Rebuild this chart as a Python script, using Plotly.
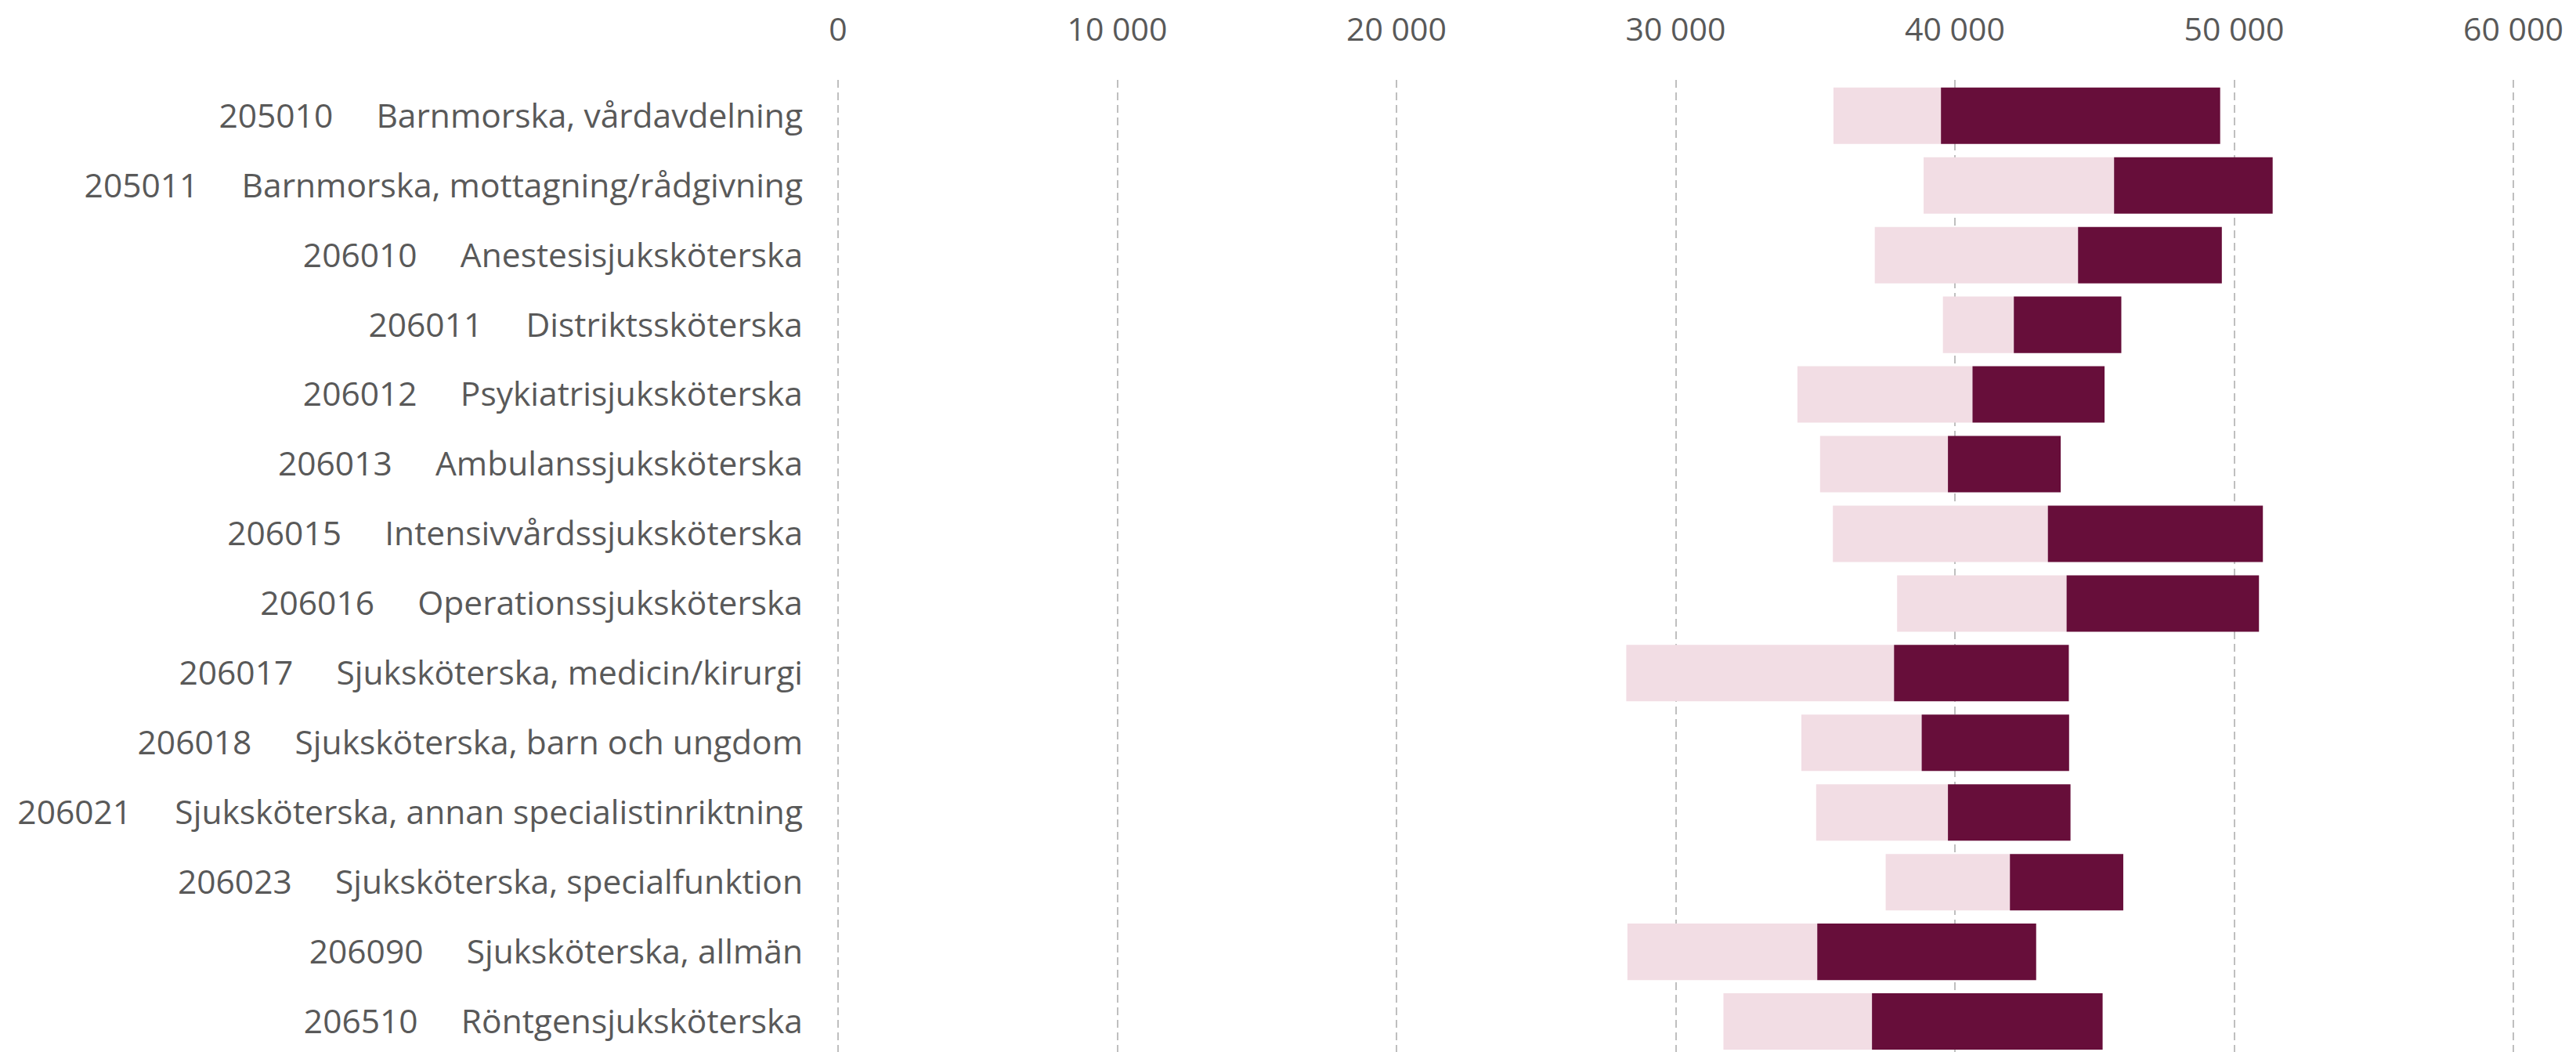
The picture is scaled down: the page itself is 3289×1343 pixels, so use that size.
import plotly.graph_objects as go

codes = ["205010", "205011", "206010", "206011", "206012", "206013", "206015",
         "206016", "206017", "206018", "206021", "206023", "206090", "206510"]
names = ["Barnmorska, vårdavdelning", "Barnmorska, mottagning/rådgivning",
         "Anestesisjuksköterska", "Distriktssköterska", "Psykiatrisjuksköterska",
         "Ambulanssjuksköterska", "Intensivvårdssjuksköterska", "Operationssjuksköterska",
         "Sjuksköterska, medicin/kirurgi", "Sjuksköterska, barn och ungdom",
         "Sjuksköterska, annan specialistinriktning", "Sjuksköterska, specialfunktion",
         "Sjuksköterska, allmän", "Röntgensjuksköterska"]
low_values = [35650, 38880, 37130, 39570, 34360, 35170, 35630, 37930, 28230, 34500, 35030, 37520, 28270, 31710]
mid_values = [39500, 45700, 44410, 42110, 40630, 39750, 43330, 44000, 37820, 38810, 39750, 41970, 35070, 37030]
high_values = [49500, 51380, 49560, 45960, 45360, 43790, 51030, 50890, 44080, 44090, 44140, 46030, 42910, 45290]
x_ticks = [0, 10000, 20000, 30000, 40000, 50000, 60000]

labels = [c + "\u00a0" * 5 + n for c, n in zip(codes, names)]

DARK = "#670E3A"
LIGHT = "#F2DDE4"

fig = go.Figure()
fig.add_trace(go.Bar(
    y=labels, x=[m - l for l, m in zip(low_values, mid_values)], base=low_values,
    orientation="h", marker=dict(color=LIGHT, line=dict(width=0)), showlegend=False,
))
fig.add_trace(go.Bar(
    y=labels, x=[h - m for m, h in zip(mid_values, high_values)], base=mid_values,
    orientation="h", marker=dict(color=DARK, line=dict(width=0)), showlegend=False,
))

# page has an 8px body margin; compensate
OFF = 8
W, H = 3289 - OFF, 1343 - OFF
L = 1058
T = 89
PX_PER_UNIT = 0.03565
ZERO_PAGE_X = 1070
x_min = (OFF + L - ZERO_PAGE_X) / PX_PER_UNIT
x_max = (3289 - ZERO_PAGE_X) / PX_PER_UNIT

row_px = 89.3
plot_h = H - T
y_top = -0.515
y_bottom = y_top + plot_h / row_px

fig.update_layout(
    width=W, height=H,
    margin=dict(l=L, r=0, t=T, b=0, pad=0),
    barmode="overlay", bargap=0.19,
    plot_bgcolor="white", paper_bgcolor="white",
    separators=", ",
    font=dict(family="Open Sans", size=41, color="#595959"),
    xaxis=dict(
        side="top", range=[x_min, x_max], tickvals=x_ticks, tickformat=",",
        showgrid=True, gridcolor="#BFBFBF", gridwidth=1.5, griddash="10px,6px",
        zeroline=False, showline=False, ticks="", ticklabelstandoff=41,
        tickfont=dict(size=41, color="#595959"),
    ),
    yaxis=dict(
        categoryorder="array", categoryarray=labels,
        range=[y_bottom, y_top], showgrid=False, zeroline=False, showline=False,
        ticks="", ticklabelstandoff=40, tickfont=dict(size=42.5, color="#595959"),
    ),
)

fig.write_html("out.html")
